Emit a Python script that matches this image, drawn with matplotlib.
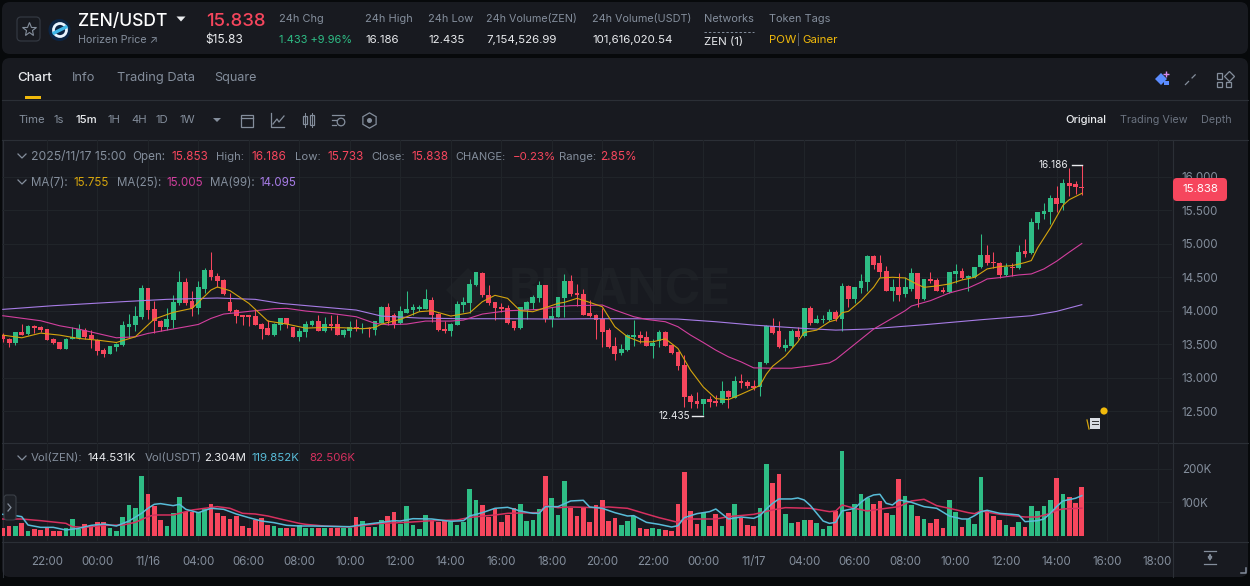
import matplotlib
matplotlib.use("Agg")
import matplotlib.pyplot as plt
from matplotlib.patches import FancyBboxPatch, Circle, Rectangle, Polygon

plt.rcParams['font.family'] = ['Inter', 'DejaVu Sans']

# ---------- data ----------
opens = [13.64,13.58,13.51,13.68,13.65,13.77,13.76,13.73,13.58,13.53,
13.43,13.57,13.59,13.71,13.63,13.56,13.41,13.35,13.45,13.48,
13.76,13.79,13.90,14.34,14.02,13.85,13.76,13.86,14.11,14.43,
14.14,14.04,14.33,14.61,14.52,14.46,14.13,14.01,13.93,13.93,
13.92,13.80,13.74,13.64,13.79,13.89,13.75,13.61,13.68,13.79,
13.84,13.70,13.80,13.80,13.64,13.70,13.75,13.72,13.74,13.71,
13.82,14.06,13.94,13.81,13.97,14.01,14.03,14.03,14.16,13.95,
13.73,13.70,13.79,14.09,14.12,14.38,14.57,14.24,14.13,14.06,
14.04,13.84,13.74,14.01,14.11,14.19,14.39,13.88,13.91,14.19,
14.45,14.27,14.25,13.97,13.94,13.87,13.71,13.47,13.37,13.41,
13.61,13.64,13.61,13.47,13.55,13.68,13.49,13.38,13.19,12.72,
12.65,12.60,12.68,12.65,12.62,12.80,12.70,12.95,12.93,12.88,
12.86,13.22,13.77,13.70,13.44,13.47,13.70,13.62,14.04,13.82,
13.86,13.86,13.98,13.87,14.37,14.17,14.34,14.43,14.82,14.71,
14.60,14.30,14.35,14.25,14.32,14.56,14.17,14.47,14.46,14.31,
14.28,14.55,14.60,14.49,14.50,14.65,14.84,14.73,14.72,14.53,
14.66,14.64,14.89,14.87,15.31,15.44,15.48,15.69,15.61,15.91,15.90,15.853]
highs = [13.66,13.59,13.68,13.80,13.79,13.79,13.77,13.73,13.59,13.53,
13.59,13.75,13.80,13.74,13.71,13.57,13.44,13.47,13.51,13.84,
13.95,14.07,14.39,14.34,14.14,13.86,14.04,14.24,14.59,14.49,
14.30,14.44,14.64,14.88,14.57,14.47,14.26,14.02,13.94,13.94,
14.02,13.81,13.86,13.81,13.89,13.89,13.76,13.74,13.85,13.86,
13.94,13.91,13.94,13.94,13.72,13.84,13.87,13.82,13.75,13.85,
14.07,14.12,13.97,14.07,14.30,14.10,14.08,14.33,14.20,13.96,
13.85,13.81,14.14,14.20,14.47,14.58,14.58,14.39,14.13,14.12,
14.08,13.84,14.06,14.14,14.24,14.44,14.39,14.06,14.20,14.55,
14.54,14.40,14.33,14.16,13.95,14.04,13.74,13.61,13.50,13.65,
13.86,13.70,13.69,13.58,13.71,13.69,13.49,13.39,13.34,12.75,
12.78,12.68,12.72,12.74,12.95,12.81,13.03,13.05,12.96,12.96,
13.23,13.79,13.89,13.85,13.58,13.73,13.75,14.04,14.07,13.94,
13.94,14.02,14.01,14.42,14.38,14.36,14.55,14.83,14.83,14.84,
14.67,14.48,14.57,14.50,14.64,14.56,14.47,14.58,14.49,14.36,
14.58,14.70,14.64,14.53,14.66,15.14,14.98,14.88,14.73,14.72,
14.72,14.98,15.07,15.39,15.47,15.61,15.73,15.86,15.97,16.13,15.94,16.186]
lows = [13.53,13.45,13.49,13.64,13.64,13.66,13.68,13.56,13.50,13.42,
13.42,13.57,13.58,13.58,13.44,13.34,13.31,13.35,13.40,13.47,
13.59,13.70,13.88,13.87,13.67,13.69,13.71,13.74,14.09,14.09,
13.92,13.95,14.26,14.46,14.36,14.24,13.98,13.81,13.79,13.77,
13.78,13.57,13.63,13.62,13.71,13.74,13.61,13.55,13.61,13.77,
13.69,13.68,13.71,13.64,13.61,13.61,13.69,13.67,13.61,13.63,
13.81,13.79,13.74,13.80,13.96,13.93,14.00,14.02,13.83,13.69,
13.66,13.62,13.79,13.98,13.97,14.37,14.21,14.09,13.86,13.98,
13.80,13.71,13.73,13.87,14.03,14.13,13.83,13.76,13.90,13.91,
14.22,14.07,13.93,13.90,13.58,13.45,13.44,13.26,13.34,13.40,
13.47,13.52,13.47,13.29,13.46,13.47,13.36,13.11,12.56,12.55,
12.54,12.435,12.56,12.57,12.60,12.54,12.69,12.84,12.85,12.82,
12.73,13.20,13.65,13.44,13.39,13.46,13.58,13.60,13.79,13.81,
13.81,13.85,13.85,13.70,14.05,14.11,14.27,14.30,14.63,14.51,
14.29,14.14,14.15,14.21,14.30,14.05,14.16,14.41,14.29,14.27,
14.27,14.42,14.47,14.29,14.49,14.64,14.68,14.64,14.49,14.52,
14.52,14.63,14.81,14.85,15.22,15.37,15.30,15.48,15.50,15.72,15.75,15.733]
closes = [13.57,13.51,13.68,13.64,13.77,13.74,13.71,13.56,13.52,13.43,
13.58,13.61,13.73,13.61,13.57,13.40,13.35,13.47,13.50,13.79,
13.80,13.92,14.34,14.01,13.85,13.76,13.88,14.13,14.43,14.11,
14.04,14.35,14.61,14.51,14.45,14.25,14.00,13.92,13.91,13.91,
13.79,13.72,13.64,13.80,13.89,13.80,13.61,13.70,13.80,13.85,
13.70,13.80,13.77,13.64,13.71,13.75,13.72,13.74,13.72,13.85,
14.06,13.85,13.80,14.00,14.02,14.06,14.06,14.17,13.93,13.71,
13.69,13.80,14.10,14.13,14.40,14.58,14.23,14.11,14.04,14.03,
13.82,13.74,14.05,14.13,14.21,14.39,13.88,13.92,14.20,14.45,
14.25,14.24,13.94,13.92,13.86,13.68,13.45,13.36,13.43,13.64,
13.64,13.59,13.47,13.52,13.68,13.47,13.37,13.17,12.71,12.63,
12.60,12.68,12.63,12.62,12.80,12.71,12.95,12.92,12.87,12.85,
13.23,13.77,13.67,13.45,13.48,13.70,13.61,14.04,13.82,13.87,
13.87,13.98,13.87,14.37,14.17,14.35,14.45,14.82,14.69,14.58,
14.30,14.35,14.24,14.35,14.56,14.17,14.47,14.44,14.30,14.28,
14.58,14.60,14.49,14.52,14.66,14.84,14.72,14.71,14.53,14.66,
14.64,14.88,14.85,15.33,15.47,15.49,15.69,15.60,15.91,15.87,15.85,15.838]
volumes = [24,29,28,39,13,19,18,22,15,15,
22,49,20,35,31,41,40,22,15,55,
92,84,179,125,89,47,28,69,116,72,
70,72,80,95,68,59,50,59,30,24,
47,52,32,29,22,24,24,32,24,22,
24,24,24,24,24,24,55,44,27,27,
46,58,70,34,88,32,19,61,47,42,
48,40,31,42,139,107,92,57,80,40,
62,82,94,45,47,79,179,113,62,164,
84,59,84,40,92,107,44,52,32,45,
59,22,20,24,21,18,15,95,191,74,
36,69,29,65,28,68,94,54,32,28,
84,214,159,186,66,38,41,47,47,39,
20,29,75,254,72,95,125,112,95,104,
67,62,170,119,92,59,50,37,50,22,
107,71,26,50,35,176,77,59,47,31,
26,40,26,89,74,89,108,173,125,116,
98,144.5]

ma7_idx = [0,3,6,9,12,15,18,21,24,27,30,33,34,36,39,42,45,48,51,54,57,59,60,63,66,68,71,74,76,78,80,82,84,86,88,89,91,93,95,97,99,101,103,105,107,109,111,113,115,117,119,120,121,122,124,126,127,129,131,132,133,134,136,138,139,141,143,145,146,148,150,152,154,156,158,160,162,163,164,166,168,169,171]
ma7_val = [13.635,13.595,13.665,13.635,13.585,13.56,13.525,13.61,13.875,13.975,14.035,14.31,14.355,14.30,14.11,13.845,13.80,13.74,13.75,13.745,13.73,13.75,13.80,13.87,13.985,14.0,13.92,13.97,14.135,14.23,14.185,14.0,13.985,14.045,14.11,14.125,14.185,14.125,14.06,13.76,13.61,13.535,13.535,13.58,13.435,13.11,12.86,12.685,12.67,12.75,12.835,12.885,13.05,13.17,13.32,13.535,13.675,13.71,13.835,13.86,13.97,13.99,14.15,14.35,14.49,14.50,14.49,14.39,14.35,14.37,14.40,14.46,14.50,14.625,14.66,14.675,14.72,14.75,14.94,15.235,15.575,15.66,15.755]
ma25_idx = [0,4,6,9,12,15,18,21,23,26,29,31,33,35,37,40,43,45,48,52,56,59,61,64,67,71,73,76,80,83,85,88,90,93,95,97,100,102,105,107,109,111,113,115,117,119,122,125,128,131,132,138,140,143,144,147,150,153,155,156,158,161,163,165,167,169,171]
ma25_val = [13.925,13.875,13.85,13.775,13.725,13.66,13.595,13.61,13.66,13.71,13.76,13.795,13.885,13.95,13.97,14.0,14.03,14.035,13.995,13.96,13.91,13.81,13.79,13.80,13.845,13.845,13.86,13.95,14.0,14.01,14.02,14.06,14.075,14.08,14.085,14.01,13.91,13.87,13.835,13.76,13.635,13.525,13.41,13.31,13.235,13.145,13.14,13.14,13.175,13.22,13.27,13.725,13.835,14.0,14.07,14.15,14.265,14.34,14.425,14.475,14.495,14.535,14.55,14.625,14.74,14.875,15.005]
ma99_idx = [0,8,19,26,34,40,44,50,56,60,66,73,80,88,93,100,107,113,119,127,132,137,146,155,163,167,171]
ma99_val = [14.02,14.075,14.135,14.17,14.19,14.17,14.11,14.06,14.01,13.92,13.89,13.88,13.88,13.875,13.88,13.88,13.875,13.835,13.785,13.735,13.71,13.725,13.79,13.865,13.925,13.99,14.09]

vol_a_idx = [0,2,3,4,6,8,10,12,14,16,18,20,22,23,24,25,27,28,29,31,33,35,37,39,41,43,45,47,49,55,57,60,62,63,65,68,71,73,74,76,78,80,82,84,85,86,88,90,92,93,94,95,97,99,100,102,104,106,107,108,110,112,113,115,117,119,120,121,122,123,125,126,127,128,130,131,132,133,135,136,137,138,139,140,141,142,143,144,146,148,150,152,153,154,155,156,158,160,161,162,164,165,166,167,168,170,171]
vol_a_val = [64,60,57,32,25,25,17,22,31,35,29,44,67,82,94,96,90,94,79,69,82,79,65,54,44,39,31,29,29,27,33,40,45,44,51,50,43,45,59,69,82,85,74,67,67,87,87,104,106,86,84,82,69,59,60,40,34,26,30,54,66,72,80,50,56,52,60,80,97,110,110,113,107,90,44,37,40,74,82,100,114,122,124,97,92,107,104,100,87,82,59,50,50,60,72,76,67,64,62,42,45,50,67,87,104,112,119.9]
vol_b_idx = [0,3,6,10,11,13,16,19,21,23,24,27,30,32,34,36,38,40,42,44,47,48,51,55,60,64,68,72,74,78,80,84,85,86,88,90,94,96,99,102,104,107,108,113,115,119,122,124,128,131,132,133,135,137,140,142,144,146,148,150,153,154,155,158,162,164,166,167,168,171]
vol_b_val = [50,50,45,37,27,25,31,32,40,57,62,62,77,82,87,82,67,65,59,50,37,34,29,26,37,40,45,47,55,62,67,69,69,90,84,86,84,86,82,65,54,40,50,50,57,64,77,84,82,72,74,92,82,74,82,87,104,109,90,82,69,66,74,64,56,56,67,76,80,82.5]

price_ticks = [12.5,13.0,13.5,14.0,14.5,15.0,15.5,16.0]
price_labels = ['12.500','13.000','13.500','14.000','14.500','15.000','15.500','16.000']
vol_ticks = [100,200]
vol_labels = ['100K','200K']
time_ticks = [7+8*j for j in range(23)]
time_labels = ['22:00','00:00','11/16','04:00','06:00','08:00','10:00','12:00','14:00','16:00','18:00','20:00',
               '22:00','00:00','11/17','04:00','06:00','08:00','10:00','12:00','14:00','16:00','18:00']

# ---------- styles ----------
W, H = 1250, 586
OUTER, PANEL = '#07090b', '#181a20'
GRID, SEP = '#202429', '#2b2f36'
UP, DOWN = '#2ebd85', '#f6465d'
GRAY, LIGHT = '#848e9c', '#eaecef'
DIM = '#6b7380'
GOLD, MAG, PUR = '#d4a40e', '#d23f9e', '#a77ce6'
VBLUE, VPINK = '#58bcd8', '#d6305f'
GOLDT = '#f0b90b'

fig = plt.figure(figsize=(W/100, H/100), dpi=100, facecolor=OUTER)

def px_axes(x0, y0, x1, y1, **kw):
    return fig.add_axes([x0/W, 1-y1/H, (x1-x0)/W, (y1-y0)/H], **kw)

bg = fig.add_axes([0,0,1,1], zorder=0); bg.set_xlim(0,W); bg.set_ylim(H,0); bg.axis('off')
fg = fig.add_axes([0,0,1,1], zorder=5); fg.set_xlim(0,W); fg.set_ylim(H,0); fg.axis('off'); fg.patch.set_alpha(0)

for (x0,y0,x1,y1) in [(2,2,1248,54),(2,58,1248,577)]:
    bg.add_patch(FancyBboxPatch((x0+8,y0+8),x1-x0-16,y1-y0-16,boxstyle='round,pad=8,rounding_size=8',fc=PANEL,ec='none'))
for y in (99.5,139.5):
    bg.plot([2,1248],[y,y],color=SEP,lw=0.8)

def t(x,y,s,size=11.5,color=GRAY,ha='left',weight='normal',ax=fg,**kw):
    return ax.text(x,y,s,fontsize=size*0.72,color=color,ha=ha,va='center',fontweight=weight,**kw)

# watermark
bg.text(620,291,'BINANCE',fontsize=35,color='#1d2025',fontweight='bold',ha='center',va='center')
bg.add_patch(Polygon([(468,268),(490,290),(468,312),(446,290)],fc='#1d2025',ec='none'))

# ---------- header ----------
fg.add_patch(FancyBboxPatch((20,20),17,18,boxstyle='round,pad=3,rounding_size=4',fc='none',ec='#333841',lw=0.9))
fg.plot([28.5],[29],marker='*',ms=10,mfc='none',mec=GRAY,mew=0.8)
fg.add_patch(Circle((59.5,30),11,fc='#0b2545',ec='none'))
fg.add_patch(Circle((60,30),6.5,fc='none',ec='#e8f4ff',lw=2))
fg.plot([54,66],[33,27],color='#3fb6e8',lw=2.4)
t(78,21,'ZEN/USDT',17.5,'#ffffff',weight='medium')
fg.add_patch(Polygon([(176.5,16.5),(185.5,16.5),(181,21.5)],fc=LIGHT,ec='none'))
t(78,40,'Horizen Price ↗',10.7,GRAY)
t(206,21,'15.838',18.5,DOWN,weight='medium')
t(205,40,'$15.83',12,LIGHT)
t(279,19,'24h Chg',11); t(279,40,'1.433 +9.96%',11,UP)
t(365,19,'24h High',11); t(365,40,'16.186',11.5,LIGHT)
t(428,19,'24h Low',11); t(428,40,'12.435',11.5,LIGHT)
t(486,19,'24h Volume(ZEN)',10.8); t(486,40,'7,154,526.99',11.5,LIGHT)
t(592,19,'24h Volume(USDT)',10.8); t(592,40,'101,616,020.54',11.5,LIGHT)
t(704,19,'Networks',11); t(704,42,'ZEN (1)',11.5,LIGHT)
fg.plot([704,754],[31.5,31.5],color=GRAY,lw=0.7,ls=(0,(2.5,2)))
t(769,19,'Token Tags',11)
t(769,40,'POW',11.5,GOLDT); t(797,40,'|',10,DIM); t(802,40,'Gainer',11.5,GOLDT)

# tabs
t(17,78,'Chart',13.2,LIGHT,weight='medium'); t(72,78,'Info',12.8); t(117,78,'Trading Data',12.8); t(214,78,'Square',12.6)
fg.add_patch(Rectangle((25,96),16,3,fc=GOLDT,ec='none'))
# right-hand icons
fg.plot([1161],[79],marker='D',ms=6,color='#5b8cff',mew=0)
fg.plot([1166],[74],marker='+',ms=5,color='#d58cf0',mew=1)
fg.add_patch(Rectangle((1164,81),5,4,fc='#5b8cff',ec='none'))
fg.plot([1185,1197],[85,73],color=GRAY,lw=0.9,ls=(0,(4.5,3)))
for (x,y) in [(1216.5,73),(1216.5,81.5),(1225.5,81.5)]:
    fg.add_patch(Rectangle((x,y),5.5,5.5,fc='none',ec=GRAY,lw=0.9))
fg.plot([1228.5],[76],marker='D',ms=4.8,mfc='none',mec=GRAY,mew=0.9)

# toolbar
t(18,120,'Time',11.3); t(54,120,'1s',11.3); t(75,120,'15m',11.3,LIGHT,weight='medium')
t(107,120,'1H',11.3); t(131,120,'4H',11.3); t(156,120,'1D',11.3); t(180,120,'1W',11.3)
fg.add_patch(Polygon([(213,118),(221,118),(217,122)],fc=GRAY,ec='none'))
fg.add_patch(Rectangle((241,114.5),12,12,fc='none',ec=GRAY,lw=0.9)); fg.plot([241,253],[118,118],color=GRAY,lw=0.9)
fg.plot([271,271,284],[113,127,127],color=GRAY,lw=0.9); fg.plot([273,277,279,284],[124,119,122,116],color=GRAY,lw=0.9)
fg.add_patch(Rectangle((302.5,116),4,8,fc='none',ec=GRAY,lw=0.9)); fg.add_patch(Rectangle((309.5,115),4,10,fc='none',ec=GRAY,lw=0.9))
fg.plot([304.5,304.5],[113,127],color=GRAY,lw=0.7); fg.plot([311.5,311.5],[113,127],color=GRAY,lw=0.7)
fg.plot([332,344],[115,115],color=GRAY,lw=0.9); fg.plot([332,336],[120,120],color=GRAY,lw=0.9); fg.plot([332,336],[125,125],color=GRAY,lw=0.9)
fg.add_patch(Circle((341,122),3.8,fc='none',ec=GRAY,lw=0.9))
fg.plot([368.5],[120],marker='h',ms=11,mfc='none',mec=GRAY,mew=0.9); fg.plot([368.5],[120],marker='o',ms=2.6,mfc=GRAY,mec=GRAY)
t(1065,120,'Original',11.2,LIGHT,weight='medium'); t(1120,120,'Trading View',10.8,DIM); t(1201,120,'Depth',10.8,DIM)

# legend rows
fg.plot([18,22,26],[154,158,154],color=GRAY,lw=0.9); fg.plot([18,22,26],[180,184,180],color=GRAY,lw=0.9); fg.plot([18,22,26],[456,460,456],color=GRAY,lw=0.9)
for x,s,c,z in [(31,'2025/11/17 15:00',GRAY,12.2),(132,'Open:',GRAY,11.6),(171,'15.853',DOWN,11.8),(216,'High:',GRAY,11.3),(251,'16.186',DOWN,11.8),
              (295,'Low:',GRAY,11.3),(327,'15.733',DOWN,11.8),(371,'Close:',GRAY,11.3),(411,'15.838',DOWN,11.8),(455,'CHANGE:',GRAY,11),(513,'−0.23%',DOWN,11.5),
              (559,'Range:',GRAY,11.3),(600,'2.85%',DOWN,11.8)]:
    t(x,156.6,s,z,c)
for x,s,c in [(31,'MA(7):',GRAY),(73,'15.755',GOLD),(117,'MA(25):',GRAY),(166,'15.005',MAG),(210,'MA(99):',GRAY),(259,'14.095',PUR)]:
    t(x,182.6,s,11.6,c)
for x,s,c in [(31,'Vol(ZEN):',GRAY),(87,'144.531K',LIGHT),(145,'Vol(USDT)',GRAY),(204,'2.304M',LIGHT),(252,'119.852K',VBLUE),(309,'82.506K',VPINK)]:
    t(x,458.4,s,11.4,c)

# ---------- price axes ----------
X0, X1 = 2, 1172
PY0, PY1 = 140, 442
VY0, VY1 = 443, 541
xlim = ((X0-2.8)/6.31, (X1-2.8)/6.31)

ax = px_axes(X0,PY0,X1,PY1,zorder=2); ax.patch.set_alpha(0)
ax.set_xlim(*xlim)
ax.set_ylim(12.5+(411-PY1)/66.86, 12.5+(411-PY0)/66.86)
ax.set_yticks(price_ticks); ax.set_yticklabels(price_labels,fontsize=8.3,color=GRAY)
ax.yaxis.tick_right(); ax.tick_params(length=0,pad=7,axis='y')
ax.set_xticks(time_ticks); ax.tick_params(axis='x',labelbottom=False,length=0)
ax.grid(True,color=GRID,lw=0.8); ax.set_axisbelow(True)
for s in ax.spines.values(): s.set_visible(False)

idx = list(range(len(closes)))
colors = [UP if c>=o else DOWN for o,c in zip(opens,closes)]
ax.vlines(idx,lows,highs,colors=colors,lw=0.75,zorder=3)
ax.bar(idx,[abs(c-o) for o,c in zip(opens,closes)],bottom=[min(o,c) for o,c in zip(opens,closes)],
       width=0.76,color=colors,linewidth=0,zorder=4)
ax.plot(ma99_idx,ma99_val,color=PUR,lw=0.8,zorder=5)
ax.plot(ma25_idx,ma25_val,color=MAG,lw=0.8,zorder=5)
ax.plot(ma7_idx,ma7_val,color=GOLD,lw=0.8,zorder=6)

# high / low marks
ax.plot([169.4,171],[16.186,16.186],color=LIGHT,lw=1,zorder=6)
ax.text(168.9,16.186,'16.186',fontsize=7.2,color=LIGHT,ha='right',va='center')
ax.plot([109.3,111],[12.42,12.42],color=LIGHT,lw=1,zorder=6)
ax.text(108.9,12.42,'12.435',fontsize=7.2,color=LIGHT,ha='right',va='center')

# current price pill
fg.add_patch(FancyBboxPatch((1176,181),48,17,boxstyle='round,pad=3,rounding_size=4',fc=DOWN,ec='none'))
t(1200,189.5,'15.838',11.5,'#ffffff',ha='center')

# small note icon
fg.add_patch(Rectangle((1090,418),10,11,fc='#d9dde3',ec='none'))
fg.plot([1092,1098],[421,421],color='#333',lw=0.7); fg.plot([1092,1098],[424,424],color='#333',lw=0.7)
fg.plot([1087,1089],[420,429],color=GOLD,lw=0.9)
fg.add_patch(Circle((1104,411),3.6,fc=GOLDT,ec='none'))

# ---------- volume axes ----------
vx = px_axes(X0,VY0,X1,VY1,zorder=2); vx.patch.set_alpha(0)
vx.set_xlim(*xlim)
vx.set_ylim((535.7-VY1)/33.4*100,(535.7-VY0)/33.4*100)
vx.bar(idx,volumes,width=0.74,color=colors,linewidth=0,zorder=3)
vx.plot(vol_b_idx,vol_b_val,color=VPINK,lw=1.1,zorder=4)
vx.plot(vol_a_idx,vol_a_val,color=VBLUE,lw=1.1,zorder=5)
vx.set_yticks(vol_ticks); vx.set_yticklabels(vol_labels,fontsize=8.3,color=GRAY)
vx.yaxis.tick_right(); vx.tick_params(axis='y',length=0,pad=7)
vx.set_xticks(time_ticks); vx.set_xticklabels(time_labels,fontsize=8.3,color=GRAY)
vx.tick_params(axis='x',length=0,pad=11)
vx.grid(True,color=GRID,lw=0.8); vx.set_axisbelow(True)
for s in vx.spines.values(): s.set_visible(False)

# separators
bg.plot([2,1248],[442.5,442.5],color=SEP,lw=0.8)
bg.plot([2,1248],[541.5,541.5],color=SEP,lw=0.8)
bg.plot([1172.5,1172.5],[140,577],color=SEP,lw=0.8)
bg.plot([2.5,2.5],[140,577],color=SEP,lw=0.8)

# left handle, scale icon, corner
fg.add_patch(FancyBboxPatch((7,498),6,19,boxstyle='round,pad=3,rounding_size=3',fc='#1e2127',ec='#3a3f47',lw=0.8))
fg.plot([8,11,8],[504,507.5,511],color=GRAY,lw=0.9)
fg.plot([1204,1216],[551,551],color=GRAY,lw=0.9); fg.plot([1204,1216],[563.5,563.5],color=GRAY,lw=0.9)
fg.annotate('',xy=(1210,550.5),xytext=(1210,564),arrowprops=dict(arrowstyle='<->',color=GRAY,lw=0.9,mutation_scale=6))
fg.plot([1241,1246,1246],[572.5,572.5,568],color=GRAY,lw=1.1)

fig.savefig('out.png',dpi=100,facecolor=OUTER)
